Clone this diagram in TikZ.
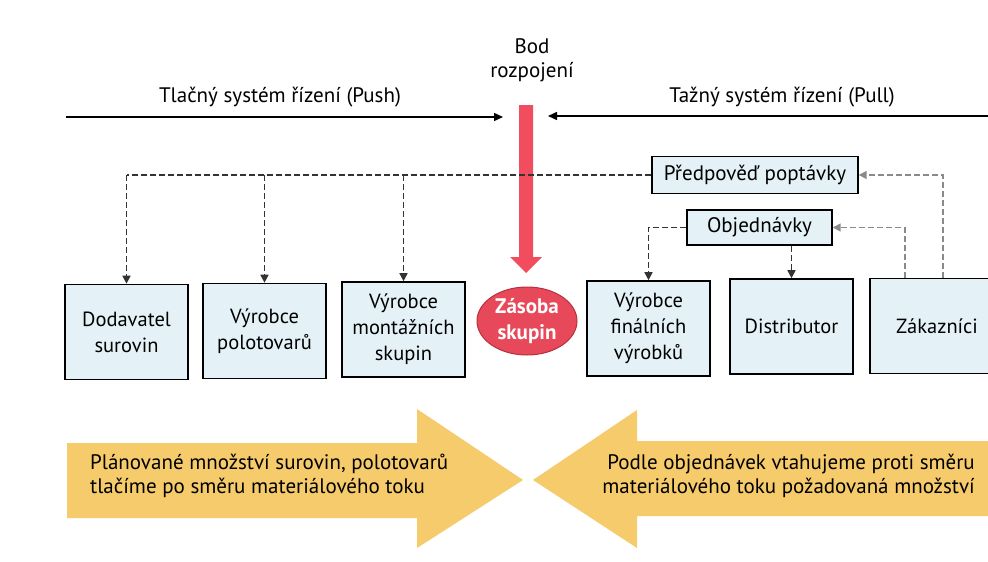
\documentclass[tikz,border=0pt]{standalone}
\usepackage{fontspec}
\setmainfont{PT Sans}
\usetikzlibrary{shapes.geometric,arrows.meta}
\definecolor{boxfill}{HTML}{E4F2F7}
\definecolor{redbar}{HTML}{F24D5E}
\definecolor{redell}{HTML}{E8495A}
\definecolor{redline}{HTML}{B8303E}
\definecolor{yel}{HTML}{F6CB6B}
\definecolor{dgray}{HTML}{333333}
\definecolor{lgray}{HTML}{8A8A8A}
\begin{document}
\begin{tikzpicture}[x=1pt,y=-1pt,
  txt/.style={font=\fontsize{21pt}{24pt}\selectfont, inner sep=0pt, align=center},
  entity/.style={draw=black, line width=1.6pt, fill=boxfill, minimum width=123pt, minimum height=95pt, inner sep=2pt, align=center, font=\fontsize{20.5pt}{26pt}\selectfont},
  info/.style={draw=black, line width=1.4pt, fill=boxfill, inner sep=2pt, align=center, font=\fontsize{21pt}{24pt}\selectfont},
  dl/.style={dashed, dash pattern=on 6pt off 3pt, line width=1.6pt, draw=dgray},
  dlg/.style={dashed, dash pattern=on 6pt off 3pt, line width=1.6pt, draw=lgray},
  tip/.style={-{Triangle[length=8pt,width=8pt]}},
  solid tip/.style={-{Triangle[length=9pt,width=8pt]}},
]
\useasboundingbox (0,0) rectangle (988,562);
\fill[white] (0,0) rectangle (988,562);

% big yellow arrows
\fill[yel] (67,443) -- (417,443) -- (417,409) -- (523,480) -- (417,548) -- (417,518) -- (67,518) -- cycle;
\fill[yel] (988,441) -- (637,441) -- (637,410) -- (533,480) -- (637,548) -- (637,516) -- (988,516) -- cycle;
\node[txt, align=left, anchor=west] (lt) at (90,476) {Plánované množství surovin, polotovarů\\tlačíme po směru materiálového toku};
\node[txt, align=right, anchor=east] (rt) at (975,476) {Podle objednávek vtahujeme proti směru\\materiálového toku požadovaná množství};

% top labels and lines
\coordinate (pushA) at (66,117);
\coordinate (pushB) at (503,117);
\coordinate (pullA) at (988,116);
\coordinate (pullB) at (548,116);
\draw[line width=1.5pt, solid tip] (pushA) -- (pushB);
\draw[line width=1.5pt, solid tip] (pullA) -- (pullB);
\node[txt] (pushl) at (280,97) {Tlačný systém řízení (Push)};
\node[txt] (pulll) at (782,97) {Tažný systém řízení (Pull)};
\node[txt] (bod) at (532,60) {Bod\\rozpojení};

% red decoupling arrow
\fill[redbar] (519,105) -- (533,105) -- (533,257) -- (542,257) -- (526,273) -- (510,257) -- (519,257) -- cycle;

% entities
\node[entity] (d1) at (126.5,332) {Dodavatel\\surovin};
\node[entity] (d2) at (264.5,331) {Výrobce\\polotovarů};
\node[entity] (d3) at (403.5,329.5) {Výrobce\\montážních\\skupin};
\node[ellipse, draw=redline, line width=1pt, fill=redell, minimum width=100pt, minimum height=68pt, inner sep=0pt, align=center, text=white, font=\fontsize{21pt}{26pt}\selectfont\bfseries] (zs) at (527,321) {Zásoba\\skupin};
\node[entity] (d4) at (648.5,328.5) {Výrobce\\finálních\\výrobků};
\node[entity] (d5) at (791.5,326.5) {Distributor};
\node[entity, minimum width=134pt] (d6) at (937,326) {Zákazníci};

\node[info, minimum width=206pt, minimum height=37pt] (pp) at (755,175) {Předpověď poptávky};
\node[info, minimum width=145pt, minimum height=35pt] (ob) at (759.5,227.5) {Objednávky};

% dashed connectors
\draw[dl] (pp.west) -- (d1.north |- pp.west);
\draw[dl, tip] (d1.north |- pp.west) -- (d1.north);
\draw[dl, tip] (d2.north |- pp.west) -- (d2.north);
\draw[dl, tip] (d3.north |- pp.west) -- (d3.north);
\draw[dlg, tip] ([xshift=6pt]d6.north) |- (pp.east);
\draw[dlg, tip] ([xshift=-32pt]d6.north) |- (ob.east);
\draw[dl, tip] (ob.west) -| (d4.north);
\draw[dl, tip] (ob.south -| d5.north) -- (d5.north);
\end{tikzpicture}
\end{document}
